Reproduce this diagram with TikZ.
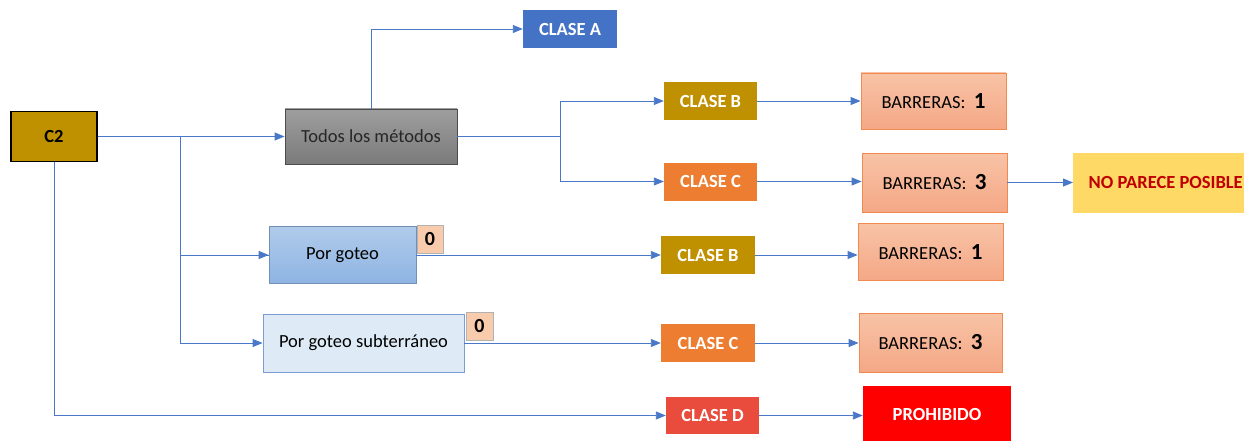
\documentclass[tikz,border=0pt]{standalone}
\usepackage{fontspec}
\setmainfont{Carlito}
\usetikzlibrary{arrows.meta}
\definecolor{gold}{HTML}{BF9000}
\definecolor{blueA}{HTML}{4472C4}
\definecolor{orangeC}{HTML}{ED7D31}
\definecolor{redD}{HTML}{E94B3C}
\definecolor{salTop}{HTML}{F8C3A6}
\definecolor{salBot}{HTML}{F4A886}
\definecolor{salLine}{HTML}{F08A50}
\definecolor{yel}{HTML}{FFD966}
\definecolor{darkred}{HTML}{C00000}
\definecolor{conn}{HTML}{4A78C8}
\definecolor{pgTop}{HTML}{B0CBEA}
\definecolor{pgBot}{HTML}{8EB4E3}
\definecolor{pgsFill}{HTML}{DEEBF7}
\definecolor{zeroFill}{HTML}{F8CBAD}
\tikzset{
  x=1pt, y=-1pt,
  box/.style={rectangle, inner sep=0pt, font=\fontsize{18.5}{20}\selectfont},
  clase/.style={box, text=white, font=\fontsize{18.5}{20}\selectfont\bfseries},
  barr/.style={box, draw=salLine, line width=0.8pt, top color=salTop, bottom color=salBot},
  zerobox/.style={box, fill=zeroFill, draw=gray!60, line width=0.6pt, font=\fontsize{20}{20}\selectfont\bfseries},
  conline/.style={draw=conn, line width=0.9pt},
  arr/.style={conline, -{Triangle[length=10pt,width=8pt]}},
}
\newcommand{\bnum}[1]{{\fontsize{23}{22}\selectfont\bfseries #1}}
\begin{document}
\begin{tikzpicture}
\useasboundingbox (0,0) rectangle (1244,441);
% nodes
\node[box, fill=gold, draw=black, line width=1.2pt, minimum width=86, minimum height=50, font=\fontsize{18.5}{20}\selectfont\bfseries] (c2) at (54,136.5) {C2};
\node[box, draw=black!70, line width=0.8pt, top color=black!38, bottom color=black!52, minimum width=172, minimum height=55, text=black!85] (todos) at (371,136.5) {Todos los métodos};
\node[clase, fill=blueA, minimum width=94, minimum height=38] (ca) at (570,29) {CLASE A};
\node[clase, fill=gold, minimum width=93, minimum height=38] (cb1) at (710.5,101) {CLASE B};
\node[clase, fill=orangeC, minimum width=93, minimum height=38] (cc1) at (710.5,181.5) {CLASE C};
\node[barr, minimum width=145, minimum height=56] (b1) at (933.5,101) {BARRERAS:\ \ \bnum{1}};
\node[barr, minimum width=145, minimum height=59] (b3) at (934.5,182.5) {BARRERAS:\ \ \bnum{3}};
\node[box, fill=yel, minimum width=185, minimum height=60, text=darkred, anchor=west, font=\fontsize{18.5}{20}\selectfont\bfseries] (npp) at (1073,182.5) {NO PARECE POSIBLE};
\node[box, draw=pgBot!80!black, line width=0.6pt, top color=pgTop, bottom color=pgBot, minimum width=147, minimum height=57] (pg) at (342.5,255) {Por goteo};
\node[zerobox, minimum width=26, minimum height=28] (z1) at (430,239) {0};
\node[clase, fill=gold, minimum width=94, minimum height=38] (cb2) at (708,255) {CLASE B};
\node[barr, minimum width=145, minimum height=57] (b1b) at (930.5,252) {BARRERAS:\ \ \bnum{1}};
\node[box, draw=blueA!70, line width=0.8pt, fill=pgsFill, minimum width=201, minimum height=58] (pgs) at (363.5,343) {Por goteo subterráneo};
\node[zerobox, minimum width=27, minimum height=28] (z2) at (479.5,326) {0};
\node[clase, fill=orangeC, minimum width=94, minimum height=38] (cc2) at (708,343) {CLASE C};
\node[barr, minimum width=143, minimum height=59] (b3b) at (930.5,342.5) {BARRERAS:\ \ \bnum{3}};
\node[clase, fill=redD, minimum width=93, minimum height=37] (cd) at (712.5,415.5) {CLASE D};
\node[clase, fill=red, minimum width=148, minimum height=56] (proh) at (937,414) {PROHIBIDO};
% junction coordinates
\coordinate (j1) at (180,136.5);
\coordinate (j2) at (560,136.5);
% connectors
\draw[arr] (c2.east) -- (todos.west);
\draw[conline] (j1) |- (pg.west);
\draw[arr] (j1 |- pg.west) -- (pg.west);
\draw[arr] (j1) |- (pgs.west);
\draw[arr] (todos.north) |- (ca.west);
\draw[conline] (todos.east) -- (j2);
\draw[arr] (j2) |- (cb1.west);
\draw[arr] (j2) |- (cc1.west);
\draw[arr] (cb1.east) -- (b1.west);
\draw[arr] (cc1.east) -- (cc1.east -| b3.west);
\draw[arr] (b3.east) -- (npp.west);
\draw[arr] (pg.east) -- (cb2.west);
\draw[arr] (pgs.east) -- (cc2.west);
\draw[arr] (cb2.east) -- (cb2.east -| b1b.west);
\draw[arr] (cc2.east) -- (cc2.east -| b3b.west);
\draw[arr] (c2.south) |- (cd.west);
\draw[arr] (cd.east) -- (cd.east -| proh.west);
\end{tikzpicture}
\end{document}
